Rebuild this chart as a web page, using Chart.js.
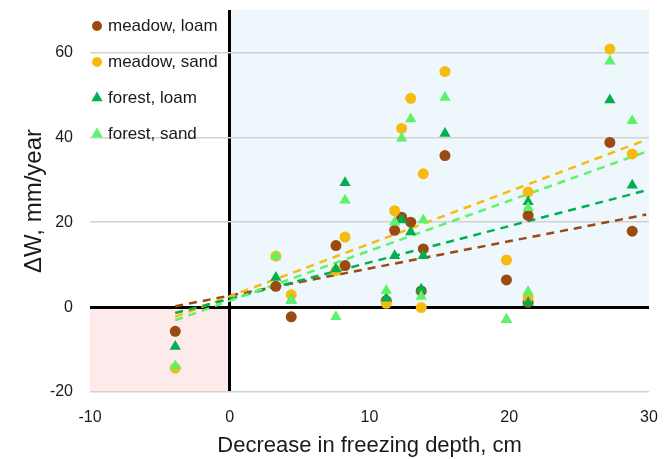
<!DOCTYPE html>
<html>
<head>
<meta charset="utf-8">
<script src="https://cdn.jsdelivr.net/npm/chart.js@4.4.1/dist/chart.umd.min.js"></script>
<style>
  html, body { margin: 0; padding: 0; background: #fff; }
  #wrap { width: 666px; height: 459px; }
</style>
</head>
<body>
<div id="wrap"><canvas id="freeze_chart" width="666" height="459"></canvas></div>
<script>
// Decrease in freezing depth for each site, cm (same sites for every series)
let freezeDecrease = [-3.9, 3.3, 4.4, 7.6, 8.25, 11.2, 11.8, 12.3, 12.95, 13.85, 13.7, 15.4, 19.8, 21.35, 21.35, 27.2, 28.8]

// Change in water storage, mm/year
let meadowLoam = [-5.7, 4.9, -2.3, 14.5, 9.8, 1.5, 18.1, 21.2, 20.0, 13.7, 3.8, 35.7, 6.4, 21.6, 1.1, 38.8, 17.9]
let meadowSand = [-14.4, 12.0, 2.9, 8.6, 16.5, 0.9, 22.7, 42.1, 49.2, 31.4, -0.1, 55.5, 11.1, 27.1, 2.3, 60.8, 36.1]
let forestLoam = [-9.3, 7.0, 1.6, 9.0, 29.3, 2.1, 12.1, 20.5, 17.7, 12.1, 4.2, 40.9, -3.0, 24.8, 1.1, 48.8, 28.7]
let forestSand = [-13.9, 12.0, 1.6, -2.3, 25.2, 3.9, 20.0, 39.8, 44.3, 20.5, 2.5, 49.4, -3.0, 23.4, 3.6, 57.9, 43.9]

// Linear trend end points [x, y] for each series
let meadowLoamTrend = [[-3.9, 0.2], [29.8, 21.8]]
let meadowSandTrend = [[-3.9, -2.3], [29.8, 39.4]]
let forestLoamTrend = [[-3.9, -1.4], [29.8, 27.5]]
let forestSandTrend = [[-3.9, -3.1], [29.8, 36.6]]

let seriesLabels = ['meadow, loam', 'meadow, sand', 'forest, loam', 'forest, sand']
let xTicks = [-10, 0, 10, 20, 30]
let yTicks = [-20, 0, 20, 40, 60]

const colors = ['#9b4a12', '#f5bc0f', '#00b050', '#5ef26a']
const shapes = ['circle', 'circle', 'triangle', 'triangle']
const FONT = "'Liberation Sans', Arial, sans-serif"

function toPoints(ys) {
  return ys.map((y, i) => ({ x: freezeDecrease[i], y: y }))
}

let seriesData = [meadowLoam, meadowSand, forestLoam, forestSand]
let trendData = [meadowLoamTrend, meadowSandTrend, forestLoamTrend, forestSandTrend]

let datasets = []
// scatter points, forest sand ends up on top
seriesData.forEach((ys, i) => {
  datasets.push({
    type: 'scatter',
    label: seriesLabels[i],
    data: toPoints(ys),
    pointStyle: shapes[i],
    pointRadius: shapes[i] === 'circle' ? 5.5 : 6.5,
    backgroundColor: colors[i],
    borderColor: colors[i],
    borderWidth: 0,
    order: 4 - i
  })
})
// dashed trend lines under the points
trendData.forEach((pts, i) => {
  datasets.push({
    type: 'line',
    label: seriesLabels[i] + ' trend',
    data: pts.map(p => ({ x: p[0], y: p[1] })),
    borderColor: colors[i],
    borderWidth: 2.5,
    borderDash: [8, 6],
    pointRadius: 0,
    fill: false,
    isTrend: true,
    order: 8 - i
  })
})

// shaded quadrants: x>0,y>0 light blue, x<0,y<0 light pink
const quadrants = {
  id: 'quadrants',
  beforeDraw(chart) {
    const { ctx, scales: { x, y } } = chart
    const x0 = x.getPixelForValue(0)
    const y0 = y.getPixelForValue(0)
    ctx.save()
    ctx.fillStyle = '#eef7fc'
    ctx.fillRect(x0, y.top, x.right - x0, y0 - y.top)
    ctx.fillStyle = '#fdeaea'
    ctx.fillRect(x.left, y0, x0 - x.left, y.bottom - y0)
    ctx.restore()
  }
}

// legend stacked in the upper-left corner of the plot
const cornerLegend = {
  id: 'cornerLegend',
  afterDraw(chart) {
    const { ctx, chartArea } = chart
    ctx.save()
    ctx.font = '17px ' + FONT
    ctx.textBaseline = 'middle'
    chart.data.datasets.forEach((ds, i) => {
      if (ds.isTrend) return
      const mx = chartArea.left + 7
      const my = chartArea.top + 16 + i * 36
      ctx.fillStyle = ds.backgroundColor
      ctx.beginPath()
      if (ds.pointStyle === 'circle') {
        ctx.arc(mx, my, 5, 0, Math.PI * 2)
      } else {
        const r = 6.5
        ctx.moveTo(mx, my - r)
        ctx.lineTo(mx + r * 0.866, my + r * 0.5)
        ctx.lineTo(mx - r * 0.866, my + r * 0.5)
        ctx.closePath()
      }
      ctx.fill()
      ctx.fillStyle = '#1a1a1a'
      ctx.fillText(ds.label, mx + 11, my)
    })
    ctx.restore()
  }
}

let ctx = document.getElementById('freeze_chart')
new Chart(ctx, {
  type: 'scatter',
  data: { datasets: datasets },
  plugins: [quadrants, cornerLegend],
  options: {
    responsive: false,
    animation: false,
    layout: { padding: { top: 10, right: 17, bottom: 0, left: 0 } },
    plugins: {
      legend: { display: false },
      tooltip: { enabled: false }
    },
    scales: {
      x: {
        type: 'linear',
        min: -10,
        max: 30,
        afterBuildTicks: scale => { scale.ticks = xTicks.map(v => ({ value: v })) },
        afterFit: scale => {
          scale.height = 67
          scale.paddingLeft = 0
          scale.paddingRight = 0
        },
        border: { display: false },
        grid: {
          drawTicks: false,
          color: c => c.tick && c.tick.value === 0 ? '#000' : 'rgba(0,0,0,0)',
          lineWidth: c => c.tick && c.tick.value === 0 ? 3 : 0
        },
        ticks: { padding: 16, color: '#1a1a1a', font: { family: FONT, size: 16 } },
        title: {
          display: true,
          text: 'Decrease in freezing depth, cm',
          color: '#1a1a1a',
          font: { family: FONT, size: 22 },
          padding: { top: 0, bottom: 0 }
        }
      },
      y: {
        type: 'linear',
        min: -20,
        max: 70,
        afterBuildTicks: scale => { scale.ticks = yTicks.map(v => ({ value: v })) },
        afterFit: scale => {
          scale.width = 90
          scale.paddingTop = 0
          scale.paddingBottom = 0
        },
        border: { display: false },
        grid: {
          drawTicks: false,
          color: c => c.tick && c.tick.value === 0 ? '#000' : '#d2d2d2',
          lineWidth: c => c.tick && c.tick.value === 0 ? 3 : 1.5
        },
        ticks: { padding: 17, color: '#1a1a1a', font: { family: FONT, size: 16 } },
        title: {
          display: true,
          text: 'ΔW, mm/year',
          color: '#1a1a1a',
          font: { family: FONT, size: 24 },
          padding: { top: 20, bottom: 0 }
        }
      }
    }
  }
})
</script>
</body>
</html>
